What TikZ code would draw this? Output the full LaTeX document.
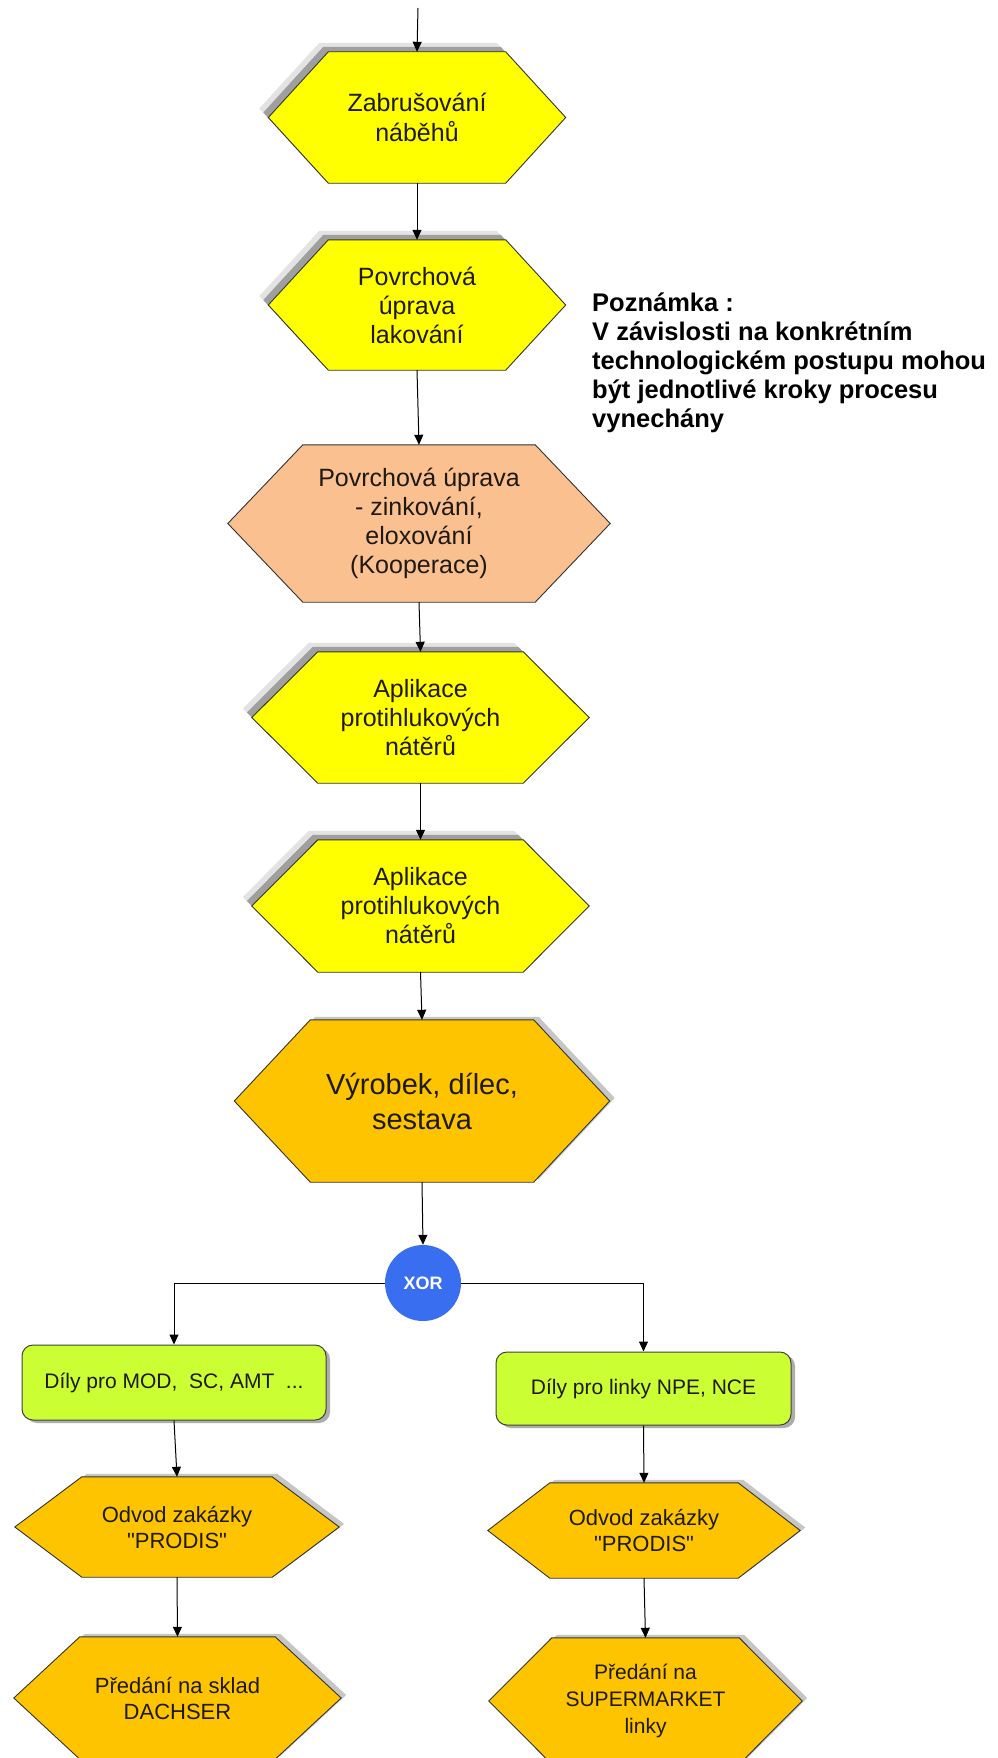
\documentclass[tikz,border=0pt]{standalone}
\usepackage{fontspec}
\setmainfont{Liberation Sans}
\newfontfamily\qfont{Liberation Sans}
\usetikzlibrary{arrows.meta,backgrounds,shadows}
\definecolor{hexyellow}{HTML}{FFFF00}
\definecolor{hexsalmon}{HTML}{FAC090}
\definecolor{hexorange}{HTML}{FFC400}
\definecolor{boxgreen}{HTML}{CCFF33}
\definecolor{xorblue}{HTML}{3A6EF0}
\definecolor{textcol}{HTML}{1E1A12}
\newcommand{\fsz}[2]{\fontsize{#1pt}{#2pt}\selectfont}
\newcommand{\hexpath}[2]{(#1.north west) -- (#1.north east) -- ([xshift=#2]#1.east) -- (#1.south east) -- (#1.south west) -- ([xshift=-#2]#1.west) -- cycle}
\tikzset{
  hexbox/.style={rectangle, inner sep=0pt, align=center, text=textcol},
  hexedge/.style={draw=black!80, line width=0.9pt},
  arr/.style={draw=black, line width=1pt, -{Triangle[length=10pt,width=9pt]}},
  greenbox/.style={rectangle, rounded corners=11pt, draw=black!75, line width=1pt, fill=boxgreen, text=textcol, inner sep=0pt,
    drop shadow={shadow xshift=4pt, shadow yshift=-3pt, fill=gray!80, opacity=0.8}},
}
\begin{document}
\begin{tikzpicture}[x=1pt,y=-1pt]
\path[use as bounding box] (0,0) rectangle (998,1758);

% process nodes
\node[hexbox, minimum width=177pt, minimum height=131pt, font=\fsz{25}{30}] (h1) at (417,117.5) {Zabrušování\\náběhů};
\node[hexbox, minimum width=177pt, minimum height=130pt, font=\fsz{25}{29}] (h2) at (417,305) {Povrchová\\úprava\\lakování};
\node[hexbox, minimum width=232pt, minimum height=157pt, font=\fsz{25}{29}] (h3) at (419,523.5) {Povrchová úprava\\- zinkování,\\eloxování\\(Kooperace)};
\node[hexbox, minimum width=205pt, minimum height=131pt, font=\fsz{25}{29}] (h4) at (420.5,717.5) {Aplikace\\protihlukových\\nátěrů};
\node[hexbox, minimum width=205pt, minimum height=132pt, font=\fsz{25}{29}] (h5) at (420.5,906) {Aplikace\\protihlukových\\nátěrů};
\node[hexbox, minimum width=223pt, minimum height=162pt, font=\fsz{29}{35}] (h6) at (422,1101) {Výrobek, dílec,\\sestava};

\node[circle, fill=xorblue, minimum size=76pt, inner sep=0pt, text=white, font=\bfseries\fsz{18}{20}] (xor) at (423,1283) {XOR};

\node[greenbox, minimum width=304pt, minimum height=75pt, font=\fsz{21}{25}] (g1) at (174,1382.5) {Díly pro MOD,\ \ SC, AMT\ \ ...};
\node[greenbox, minimum width=295pt, minimum height=73pt, font=\fsz{21}{25}] (g2) at (643.5,1388.5) {Díly pro linky NPE, NCE};

\node[hexbox, minimum width=190pt, minimum height=100pt, font=\fsz{22}{26}] (o1) at (177,1527) {Odvod zakázky\\{\qfont"PRODIS"}};
\node[hexbox, minimum width=188pt, minimum height=95pt, font=\fsz{22}{26}] (o2) at (644,1530.5) {Odvod zakázky\\{\qfont"PRODIS"}};
\node[hexbox, minimum width=195pt, minimum height=122pt, font=\fsz{22}{26}] (p1) at (177.5,1698) {Předání na sklad\\DACHSER};
\node[hexbox, minimum width=187pt, minimum height=126pt, font=\fsz{21}{27}] (p2) at (645.5,1701) {Předání na\\SUPERMARKET\\linky};

\node[anchor=west, align=left, inner sep=0pt, text=black, font=\bfseries\fsz{25.5}{29}] (note) at (592,363)
  {Poznámka :\\V závislosti na konkrétním\\technologickém postupu mohou\\být jednotlivé kroky procesu\\vynechány};

\coordinate (start) at (418,8);

% shapes behind the texts
\begin{pgfonlayer}{background}
  \fill[white] (0,0) rectangle (998,1758);
  \begin{scope}[transform canvas={shift={(-9pt,9pt)}}]
    \foreach \n/\s in {h1/60pt,h2/60pt,h4/66pt,h5/66pt}{\fill[gray!22] \hexpath{\n}{\s};}
  \end{scope}
  \begin{scope}[transform canvas={shift={(-5pt,5pt)}}]
    \foreach \n/\s in {h1/60pt,h2/60pt,h4/66pt,h5/66pt}{\fill[gray!75] \hexpath{\n}{\s};}
  \end{scope}
  \begin{scope}[transform canvas={shift={(5pt,3pt)}}]
    \foreach \n/\s in {h6/76pt,o1/67pt,o2/62pt,p1/66pt,p2/63pt}{\fill[gray!45] \hexpath{\n}{\s};}
  \end{scope}
  \foreach \n/\s in {h1/60pt,h2/60pt,h4/66pt,h5/66pt}{\filldraw[hexedge, fill=hexyellow] \hexpath{\n}{\s};}
  \filldraw[hexedge, fill=hexsalmon] \hexpath{h3}{75pt};
  \foreach \n/\s in {h6/76pt,o1/67pt,o2/62pt,p1/66pt,p2/63pt}{\filldraw[hexedge, fill=hexorange] \hexpath{\n}{\s};}
\end{pgfonlayer}

% connectors
\draw[arr] (start) -- (h1.north);
\draw[arr] (h1.south) -- (h2.north);
\draw[arr] (h2.south) -- (h3.north);
\draw[arr] (h3.south) -- (h4.north);
\draw[arr] (h4.south) -- (h5.north);
\draw[arr] (h5.south) -- (h6.north);
\draw[arr] (h6.south) -- (xor.north);
\draw[arr] (xor.west) -| (g1.north);
\draw[arr] (xor.east) -| (g2.north);
\draw[arr] (g1.south) -- (o1.north);
\draw[arr] (g2.south) -- (o2.north);
\draw[arr] (o1.south) -- (p1.north);
\draw[arr] (o2.south) -- (p2.north);
\end{tikzpicture}
\end{document}
